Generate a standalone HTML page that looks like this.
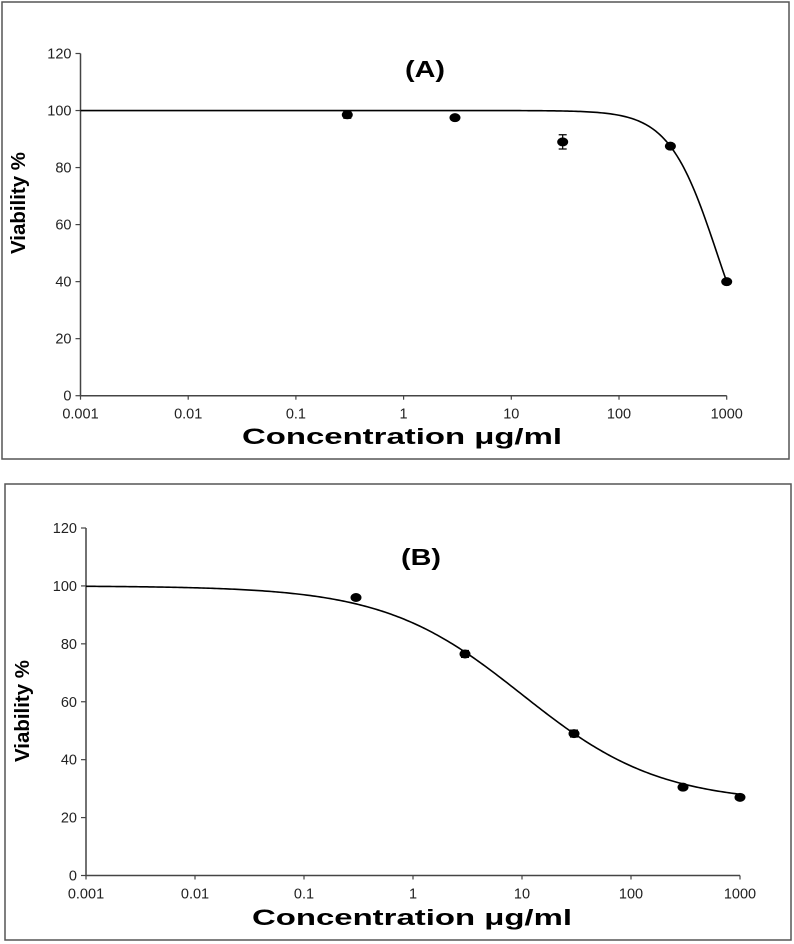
<!DOCTYPE html>
<html><head><meta charset="utf-8"><style>
body{margin:0;background:#fff;}
svg{display:block;font-family:"Liberation Sans",Arial,sans-serif;}
</style></head><body>
<svg id="c" width="794" height="944"></svg>
<script>
const xTicks=[0.001,0.01,0.1,1,10,100,1000];
const xTickLabels=["0.001","0.01","0.1","1","10","100","1000"];
const yTicks=[0,20,40,60,80,100,120];
const concA=[0.3,3,30,300,1000];
const viabA=[98.5,97.5,89,87.5,40];
const errA=[1.2,0.8,2.5,0.8,0.6];
const concB=[0.3,3,30,300,1000];
const viabB=[96,76.5,49,30.5,27];
const errB=[0.8,1.2,1.2,0.8,0.6];
const fitA=[100,0,812,1.95];   // top,bottom,ic50,hill
const fitB=[100,25,10,0.686];

const NS="http://www.w3.org/2000/svg";
const svg=document.getElementById('c');
function mk(tag,attrs,parent){const e=document.createElementNS(NS,tag);for(const k in attrs)e.setAttribute(k,attrs[k]);(parent||svg).appendChild(e);return e;}

function panel(p){
  const g=mk('g',{});
  
  
  const box=mk('rect',{x:p.box[0],y:p.box[1],width:p.box[2],height:p.box[3],fill:'none',stroke:'#555','stroke-width':1.5},g);
  
  
  const X=v=>p.x0+(Math.log10(v)+3)*(p.x1-p.x0)/6;
  const Y=v=>p.y0-v*(p.y0-p.y1)/120;
  const ax=mk('path',{d:`M${p.x0} ${p.y1}V${p.y0}H${p.x1}`,fill:'none',stroke:'#444','stroke-width':1.5},g);
  
  
  xTicks.forEach((t,i)=>{
    mk('line',{x1:X(t),x2:X(t),y1:p.y0,y2:p.y0+4,stroke:'#444','stroke-width':1.2},g);
    const tx=mk('text',{x:X(t),y:p.y0+23,'text-anchor':'middle','font-size':14.5,fill:'#222'},g);
    tx.textContent=xTickLabels[i];
    
    
  });
  yTicks.forEach(t=>{
    mk('line',{x1:p.x0-5,x2:p.x0,y1:Y(t),y2:Y(t),stroke:'#444','stroke-width':1.2},g);
    const tx=mk('text',{x:p.x0-9,y:Y(t)+5,'text-anchor':'end','font-size':14.5,fill:'#222'},g);
    tx.textContent=String(t);
    
    
  });
  const f=p.fit;let d='';
  for(let i=0;i<=300;i++){const lx=-3+6*i/300;const c=Math.pow(10,lx);
    const v=f[1]+(f[0]-f[1])/(1+Math.pow(c/f[2],f[3]));
    d+=(i?'L':'M')+X(c).toFixed(2)+' '+Y(v).toFixed(2);}
  const cu=mk('path',{d:d,fill:'none',stroke:'#000','stroke-width':1.6},g);
  
  
  p.conc.forEach((c,i)=>{
    const v=p.viab[i],e=p.err[i];
    const eb=mk('path',{d:`M${X(c)} ${Y(v+e)}V${Y(v-e)}M${X(c)-4} ${Y(v+e)}h8M${X(c)-4} ${Y(v-e)}h8`,stroke:'#000','stroke-width':1.2,fill:'none'},g);
    
    
    const pt=mk('ellipse',{cx:X(c),cy:Y(v),rx:5.5,ry:4.5,fill:'#000'},g);
    
    
  });
  const t=mk('text',{x:p.title[0],y:p.title[1],'text-anchor':'middle','font-size':23,'font-weight':'bold',textLength:40,lengthAdjust:'spacingAndGlyphs'},g);
  t.textContent=p.label;
  
  
  const xl=mk('text',{x:p.xt[0],y:p.xt[1],'text-anchor':'middle','font-size':22,'font-weight':'bold',textLength:320,lengthAdjust:'spacingAndGlyphs'},g);
  xl.textContent='Concentration \u03BCg/ml';
  
  
  const yl=mk('text',{x:0,y:0,'text-anchor':'middle','font-size':20,'font-weight':'bold',textLength:102,lengthAdjust:'spacingAndGlyphs',transform:`translate(${p.yt[0]},${p.yt[1]}) rotate(-90)`},g);
  yl.textContent='Viability %';
  
  
}
panel({name:'panel-a',box:[2,2,787,457],x0:80.5,x1:726.7,y0:395.7,y1:53.5,conc:concA,viab:viabA,err:errA,fit:fitA,title:[425,77],label:'(A)',xt:[402,444],yt:[25,203]});
panel({name:'panel-b',box:[5,484,786,456],x0:86,x1:740,y0:875.5,y1:528,conc:concB,viab:viabB,err:errB,fit:fitB,title:[421,565],label:'(B)',xt:[412,925],yt:[29,711]});
</script>
</body></html>
